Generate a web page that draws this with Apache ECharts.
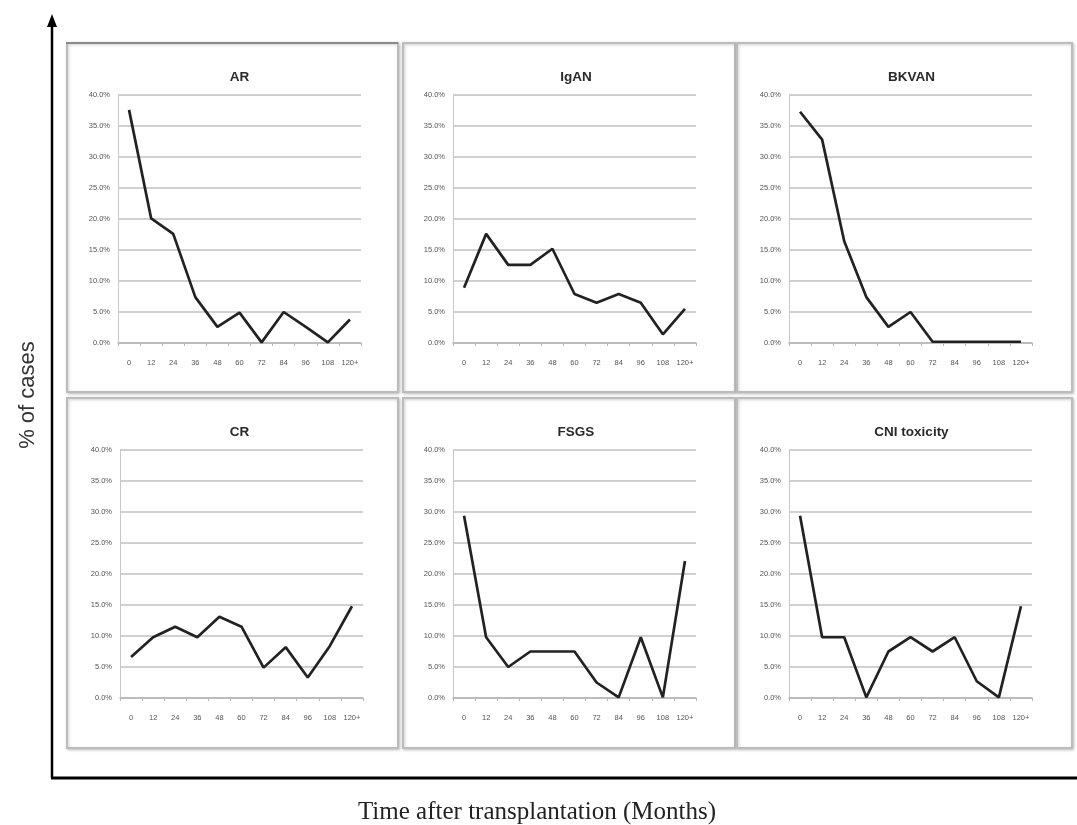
<!DOCTYPE html>
<html>
<head>
<meta charset="utf-8">
<script src="https://cdn.jsdelivr.net/npm/echarts@6/dist/echarts.min.js"></script>
<style>
  html,body{margin:0;padding:0;background:#fff;}
  #chart{width:1077px;height:825px;}
</style>
</head>
<body>
<div id="chart"></div>
<script>
// months after transplantation
const months = ['0','12','24','36','48','60','72','84','96','108','120+'];

// % of cases per panel
const arVals    = [37.6, 20.1, 17.6, 7.4, 2.6, 4.9, 0.1, 5.0, 2.6, 0.1, 3.8];
const iganVals  = [8.9, 17.6, 12.6, 12.6, 15.2, 7.9, 6.5, 7.9, 6.5, 1.4, 5.5];
const bkvanVals = [37.3, 32.8, 16.4, 7.4, 2.6, 5.0, 0.2, 0.2, 0.2, 0.2, 0.2];
const crVals    = [6.6, 9.8, 11.5, 9.8, 13.1, 11.5, 4.9, 8.2, 3.3, 8.4, 14.8];
const fsgsVals  = [29.4, 9.8, 5.0, 7.5, 7.5, 7.5, 2.5, 0.1, 9.8, 0.1, 22.1];
const cniVals   = [29.4, 9.8, 9.8, 0.1, 7.5, 9.8, 7.5, 9.8, 2.7, 0.1, 14.8];

const panelNames = ['AR','IgAN','BKVAN','CR','FSGS','CNI toxicity'];
const panelData = [arVals, iganVals, bkvanVals, crVals, fsgsVals, cniVals];

// layout of the small panels
const colLeft = [118, 453, 789];
const colBox = [[67,398],[403,735],[737,1072]];
const rowTop = [95, 450];
const rowBox = [[43,392],[398,748]];
const gridW = 243, gridH = 248;

const grids=[], xAxes=[], yAxes=[], series=[], titles=[], graphics=[];

panelData.forEach((vals,i)=>{
    const r = Math.floor(i/3), c = i%3;
    const left = colLeft[c] + (r===1 && c===0 ? 2 : 0);
    grids.push({left:left, top:rowTop[r], width:gridW, height:gridH});
    xAxes.push({
        type:'category', gridIndex:i, data:months, boundaryGap:true,
        axisLine:{lineStyle:{color:'#b5b5b5',width:1.5}},
        axisTick:{show:true,length:3,lineStyle:{color:'#b5b5b5'}},
        axisLabel:{interval:0,fontSize:7.5,color:'#555',margin:16,fontFamily:'Liberation Sans Narrow, Liberation Sans, sans-serif'}
    });
    yAxes.push({
        type:'value', gridIndex:i, min:0, max:40, interval:5,
        axisLine:{show:true,lineStyle:{color:'#c8c8c8',width:1}},
        axisTick:{show:false},
        splitLine:{lineStyle:{color:'#c0c0c0',width:1.5}},
        axisLabel:{fontSize:7.5,color:'#555',margin:8,fontFamily:'Liberation Sans Narrow, Liberation Sans, sans-serif',
            formatter:v=>v.toFixed(1)+'%'}
    });
    series.push({
        type:'line', xAxisIndex:i, yAxisIndex:i, data:vals,
        symbol:'none', lineStyle:{color:'#222',width:2.7}, z:5
    });
    titles.push({
        text:panelNames[i], left:(colBox[c][0]+colBox[c][1])/2 + 2, top:rowBox[r][0]+22,
        textAlign:'center',
        textStyle:{fontSize:13.5,fontWeight:'bold',color:'#2a2a2a',fontFamily:'Liberation Sans Narrow, Liberation Sans, sans-serif'}
    });
    graphics.push({
        type:'rect', shape:{x:colBox[c][0],y:rowBox[r][0],width:colBox[c][1]-colBox[c][0],height:rowBox[r][1]-rowBox[r][0]},
        style:{fill:'#fff',stroke:'#bcbcbc',lineWidth:2,shadowBlur:3,shadowColor:'rgba(0,0,0,0.22)',shadowOffsetX:1,shadowOffsetY:1},
        z:-10
    });
});

// darker top edge of the first panel
graphics.push({type:'line',shape:{x1:66,y1:43,x2:398,y2:43},style:{stroke:'#8a8a8a',lineWidth:2},z:-5});

// big outer axes with arrow
graphics.push(
    {type:'line',shape:{x1:52,y1:778,x2:52,y2:24},style:{stroke:'#000',lineWidth:2.5},z:10},
    {type:'polygon',shape:{points:[[52,14],[47,27],[57,27]]},style:{fill:'#000'},z:10},
    {type:'line',shape:{x1:51,y1:778,x2:1077,y2:778},style:{stroke:'#000',lineWidth:3},z:10},
    {type:'text',x:28,y:395,rotation:Math.PI/2,
        style:{text:'% of cases',fontSize:22,fill:'#333',fontFamily:'Liberation Sans, Arial, sans-serif',align:'center',verticalAlign:'middle'},z:10},
    {type:'text',x:537,y:812,
        style:{text:'Time after transplantation (Months)',fontSize:25,fill:'#222',fontFamily:'Liberation Serif, Times New Roman, serif',align:'center',verticalAlign:'middle'},z:10}
);

const chart = echarts.init(document.getElementById('chart'),null,{renderer:'canvas'});
chart.setOption({
    animation:false,
    backgroundColor:'#fff',
    title:titles,
    grid:grids,
    xAxis:xAxes,
    yAxis:yAxes,
    series:series,
    graphic:graphics
});
</script>
</body>
</html>
